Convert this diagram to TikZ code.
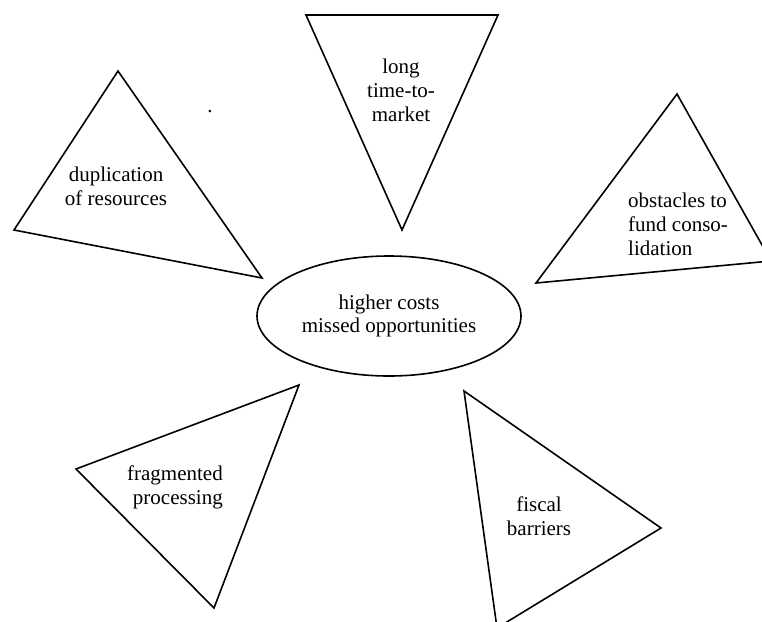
\documentclass[tikz,border=0pt]{standalone}
\usepackage{fontspec}
\setmainfont{Liberation Serif}
\usetikzlibrary{shapes.geometric}
\tikzset{
  tri/.style={draw=black, line width=1.6pt, line join=miter},
  lbl/.style={inner sep=0pt, font=\fontsize{21}{24}\selectfont},
  hub/.style={draw=black, line width=1.6pt, ellipse, inner sep=0pt,
    minimum width=264pt, minimum height=120pt, align=center,
    font=\fontsize{21}{23.5}\selectfont}
}
\begin{document}
\begin{tikzpicture}[x=1pt,y=-1pt]
\useasboundingbox (0,0) rectangle (762,621);
\clip (0,0) rectangle (762,621);
% triangles
\draw[tri] (306,15) -- (498,15) -- (402,230) -- cycle;
\draw[tri] (118,71) -- (14,230) -- (262,278) -- cycle;
\draw[tri] (677,94) -- (771,261) -- (536,283) -- cycle;
\draw[tri] (299,385) -- (76,469) -- (214,608) -- cycle;
\draw[tri] (464,391) -- (661,528) -- (497,628) -- cycle;
% centre
\node[hub] (hub) at (389,316) {higher costs\\missed opportunities};
% labels
\node[lbl, align=center] (ttm) at (401,90) {long\\time-to-\\market};
\node[lbl, align=center] (dup) at (116,186) {duplication\\of resources};
\node[lbl, align=left, anchor=west] (obs) at (628,224) {obstacles to\\fund conso-\\lidation};
\node[lbl, align=right, anchor=east] (frag) at (223,487) {fragmented\\processing};
\node[lbl, align=center] (fis) at (539,516) {fiscal\\barriers};
\node[lbl, anchor=base] (dot) at (210,112.5) {.};
\end{tikzpicture}
\end{document}
